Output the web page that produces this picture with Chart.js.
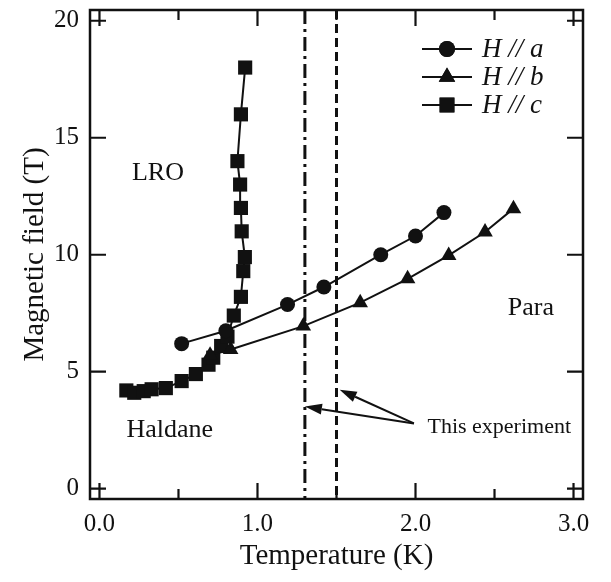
<!DOCTYPE html>
<html>
<head>
<meta charset="utf-8">
<script src="https://cdn.jsdelivr.net/npm/chart.js@4.4.0/dist/chart.umd.min.js"></script>
<style>
  html, body { margin: 0; padding: 0; background: #fff; }
</style>
</head>
<body>
<canvas id="phaseChart" width="611" height="582"></canvas>
<script>
// --- data ---
const tempA  = [0.52, 0.80, 1.19, 1.42, 1.78, 2.00, 2.18];
const fieldA = [6.2, 6.75, 7.87, 8.62, 10.0, 10.8, 11.8];

const tempB  = [0.70, 0.83, 1.29, 1.65, 1.95, 2.21, 2.44, 2.62];
const fieldB = [5.7, 5.95, 6.95, 7.95, 8.97, 9.97, 10.97, 11.97];

const tempC  = [0.17, 0.22, 0.28, 0.33, 0.42, 0.52, 0.61, 0.69, 0.72, 0.77, 0.81, 0.85, 0.895, 0.91, 0.92, 0.90, 0.895, 0.89, 0.873, 0.895, 0.922];
const fieldC = [4.2, 4.1, 4.17, 4.25, 4.3, 4.6, 4.9, 5.3, 5.6, 6.1, 6.5, 7.4, 8.2, 9.3, 9.9, 11.0, 12.0, 13.0, 14.0, 16.0, 18.0];

const xMajor = [0, 1, 2, 3];
const xMinor = [0.5, 1.5, 2.5];
const yMajor = [0, 5, 10, 15, 20];

const seriesLabels = ["H // a", "H // b", "H // c"];
const seriesMarkers = ["circle", "triangle", "rect"];

// experiment temperatures (vertical lines) and region labels
const expDashDot = 1.3;
const expDashed = 1.5;
const regionLabels = [
    { text: "LRO", x: 0.37, y: 13.5 },
    { text: "Haldane", x: 0.445, y: 2.5 },
    { text: "Para", x: 2.73, y: 7.7 }
];
const noteText = { text: "This experiment", x: 2.53, y: 2.62 };
const arrowTail = { x: 1.99, y: 2.79 };
const arrowTips = [{ x: 1.52, y: 4.23 }, { x: 1.30, y: 3.51 }];

const SERIF = "'Liberation Serif', 'DejaVu Serif', serif";
const INK = "#111111";

function pts(xs, ys) { return xs.map((x, i) => ({ x: x, y: ys[i] })); }

function makeSet(label, xs, ys, marker, radius) {
    return {
        label: label,
        data: pts(xs, ys),
        showLine: true,
        borderColor: INK,
        borderWidth: 2,
        backgroundColor: INK,
        pointStyle: marker,
        pointRadius: radius,
        pointBorderWidth: 0,
        pointBackgroundColor: INK
    };
}

// --- frame, inward ticks, annotations, legend ---
const framePlugin = {
    id: "frame",
    beforeDatasetsDraw(chart) {
        const { ctx, chartArea: a, scales } = chart;
        ctx.save();
        ctx.strokeStyle = INK;
        ctx.lineWidth = 3;
        // dash-dot line
        ctx.setLineDash([14, 5, 3, 5]);
        let px = scales.x.getPixelForValue(expDashDot);
        ctx.beginPath(); ctx.moveTo(px, a.top); ctx.lineTo(px, a.bottom); ctx.stroke();
        // dashed line
        ctx.setLineDash([9, 5]);
        px = scales.x.getPixelForValue(expDashed);
        ctx.beginPath(); ctx.moveTo(px, a.top); ctx.lineTo(px, a.bottom); ctx.stroke();
        ctx.restore();
    },
    afterDraw(chart) {
        const { ctx, chartArea: a, scales } = chart;
        const sx = scales.x, sy = scales.y;
        ctx.save();
        ctx.strokeStyle = INK;
        ctx.lineWidth = 2.5;
        ctx.setLineDash([]);
        ctx.strokeRect(a.left, a.top, a.right - a.left, a.bottom - a.top);

        ctx.lineWidth = 2.2;
        ctx.beginPath();
        xMajor.forEach(v => {
            const p = sx.getPixelForValue(v);
            ctx.moveTo(p, a.bottom); ctx.lineTo(p, a.bottom - 16);
            ctx.moveTo(p, a.top); ctx.lineTo(p, a.top + 16);
        });
        xMinor.forEach(v => {
            const p = sx.getPixelForValue(v);
            ctx.moveTo(p, a.bottom); ctx.lineTo(p, a.bottom - 10);
            ctx.moveTo(p, a.top); ctx.lineTo(p, a.top + 10);
        });
        yMajor.forEach(v => {
            const p = sy.getPixelForValue(v);
            ctx.moveTo(a.left, p); ctx.lineTo(a.left + 16, p);
            ctx.moveTo(a.right, p); ctx.lineTo(a.right - 16, p);
        });
        ctx.stroke();

        // region labels
        ctx.fillStyle = INK;
        ctx.textAlign = "center";
        ctx.textBaseline = "middle";
        ctx.font = "26px " + SERIF;
        regionLabels.forEach(r => {
            ctx.fillText(r.text, sx.getPixelForValue(r.x), sy.getPixelForValue(r.y));
        });
        ctx.font = "22px " + SERIF;
        ctx.fillText(noteText.text, sx.getPixelForValue(noteText.x), sy.getPixelForValue(noteText.y));

        // arrows
        const tx = sx.getPixelForValue(arrowTail.x), ty = sy.getPixelForValue(arrowTail.y);
        arrowTips.forEach(t => {
            const hx = sx.getPixelForValue(t.x), hy = sy.getPixelForValue(t.y);
            const ang = Math.atan2(hy - ty, hx - tx);
            const len = 17, half = 5.5;
            const bx = hx - Math.cos(ang) * len, by = hy - Math.sin(ang) * len;
            ctx.lineWidth = 2;
            ctx.beginPath(); ctx.moveTo(tx, ty); ctx.lineTo(bx, by); ctx.stroke();
            ctx.beginPath();
            ctx.moveTo(hx, hy);
            ctx.lineTo(bx + Math.sin(ang) * half, by - Math.cos(ang) * half);
            ctx.lineTo(bx - Math.sin(ang) * half, by + Math.cos(ang) * half);
            ctx.closePath(); ctx.fill();
        });

        // legend
        ctx.font = "italic 27px " + SERIF;
        ctx.textAlign = "left";
        chart.data.datasets.forEach((ds, i) => {
            const y = a.top + 39 + i * 28;
            const x0 = a.right - 161, x1 = a.right - 111;
            ctx.lineWidth = 2;
            ctx.beginPath(); ctx.moveTo(x0, y); ctx.lineTo(x1, y); ctx.stroke();
            Chart.helpers.drawPoint(ctx, { pointStyle: ds.pointStyle, radius: ds.pointRadius + 0.5, borderWidth: 0 }, (x0 + x1) / 2, y);
            ctx.fill();
            ctx.fillText(ds.label, a.right - 101, y + 1);
        });
        ctx.restore();
    }
};

const ctx = document.getElementById("phaseChart");
new Chart(ctx, {
    type: "scatter",
    data: {
        datasets: [
            makeSet(seriesLabels[0], tempA, fieldA, seriesMarkers[0], 7.5),
            makeSet(seriesLabels[1], tempB, fieldB, seriesMarkers[1], 9),
            makeSet(seriesLabels[2], tempC, fieldC, seriesMarkers[2], 10)
        ]
    },
    options: {
        responsive: false,
        animation: false,
        devicePixelRatio: 1,
        layout: { padding: { top: 5, right: 28, left: 0, bottom: 0 } },
        plugins: { legend: { display: false }, tooltip: { enabled: false } },
        scales: {
            x: {
                type: "linear",
                min: -0.06,
                max: 3.06,
                afterBuildTicks: s => { s.ticks = xMajor.map(v => ({ value: v })); },
                afterFit: s => { s.height = 83; s.paddingLeft = 0; s.paddingRight = 0; },
                grid: { display: false, drawTicks: false },
                border: { display: false },
                ticks: {
                    padding: 10,
                    color: INK,
                    font: { family: SERIF, size: 25 },
                    callback: v => v.toFixed(1)
                },
                title: {
                    display: true,
                    text: "Temperature (K)",
                    color: INK,
                    font: { family: SERIF, size: 29 },
                    padding: { top: 0, bottom: 8 }
                }
            },
            y: {
                type: "linear",
                min: -0.44,
                max: 20.46,
                afterBuildTicks: s => { s.ticks = yMajor.map(v => ({ value: v })); },
                afterFit: s => { s.width = 90; s.paddingTop = 0; s.paddingBottom = 0; },
                grid: { display: false, drawTicks: false },
                border: { display: false },
                ticks: {
                    padding: 11,
                    color: INK,
                    font: { family: SERIF, size: 25 },
                    callback: v => String(v)
                },
                title: {
                    display: true,
                    text: "Magnetic field (T)",
                    color: INK,
                    font: { family: SERIF, size: 29 },
                    padding: { top: 18, bottom: 0 }
                }
            }
        }
    },
    plugins: [framePlugin]
});
</script>
</body>
</html>
